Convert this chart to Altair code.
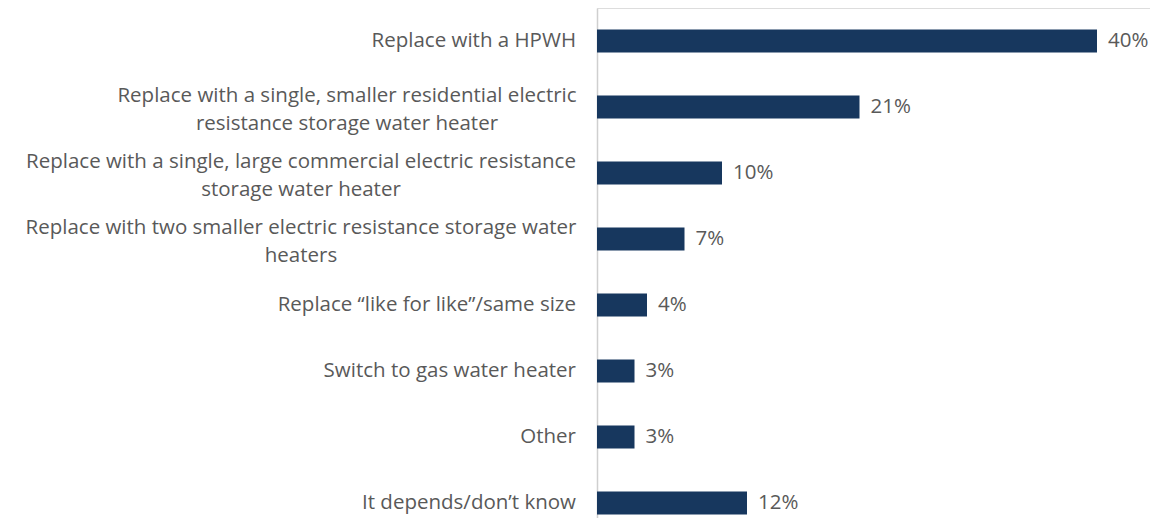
import altair as alt
import pandas as pd

categories = [
    "Replace with a HPWH",
    "Replace with a single, smaller residential electric|resistance storage water heater",
    "Replace with a single, large commercial electric resistance|storage water heater",
    "Replace with two smaller electric resistance storage water|heaters",
    "Replace \u201clike for like\u201d/same size",
    "Switch to gas water heater",
    "Other",
    "It depends/don\u2019t know",
]
values = [0.40, 0.21, 0.10, 0.07, 0.04, 0.03, 0.03, 0.12]
value_labels = ["40%", "21%", "10%", "7%", "4%", "3%", "3%", "12%"]

df = pd.DataFrame({"cat": categories, "value": values, "label": value_labels})

FONT = "Open Sans"
FS = 20.5
GREY = "#595959"
NAVY = "#17375E"

base = alt.Chart(df)

y_enc = alt.Y(
    "cat:N",
    sort=categories,
    scale=alt.Scale(paddingInner=0, paddingOuter=0),
    axis=alt.Axis(
        title=None, labels=False, ticks=False, grid=False,
        domain=True, domainColor="#CFCFCF", domainWidth=1.5,
    ),
)
x_enc = alt.X("value:Q", scale=alt.Scale(domain=[0, 0.4424]), axis=None)

bars = base.mark_bar(color=NAVY, height=23).encode(x=x_enc, y=y_enc)

vals = base.mark_text(
    align="left", baseline="middle", dx=11, font=FONT, fontSize=FS, color=GREY
).encode(x=x_enc, y=y_enc, text="label:N")

cats = base.mark_text(
    baseline="middle",
    lineBreak="|",
    lineHeight=28,
    font=FONT,
    fontSize=FS,
    color=GREY,
    align={"expr": "indexof(datum.cat, '|') >= 0 ? 'center' : 'right'"},
    dx={"expr": "indexof(datum.cat, 'residential') >= 0 ? -229 : (indexof(datum.cat, '|') >= 0 ? -275 : 0)"},
    dy={"expr": "indexof(datum.cat, '|') >= 0 ? -11.5 : 0"},
).encode(x=alt.value(-21), y=y_enc, text="cat:N")

chart = (
    alt.layer(bars, vals, cats)
    .properties(
        width=553,
        height=528,
        autosize=alt.AutoSizeParams(type="none"),
        padding={"left": 589, "top": 0, "right": 0, "bottom": -18},
    )
    .configure_view(stroke="transparent", strokeWidth=0)
    .configure(background="white")
)

chart.save("out.html", embed_options={"renderer": "svg", "actions": False})
